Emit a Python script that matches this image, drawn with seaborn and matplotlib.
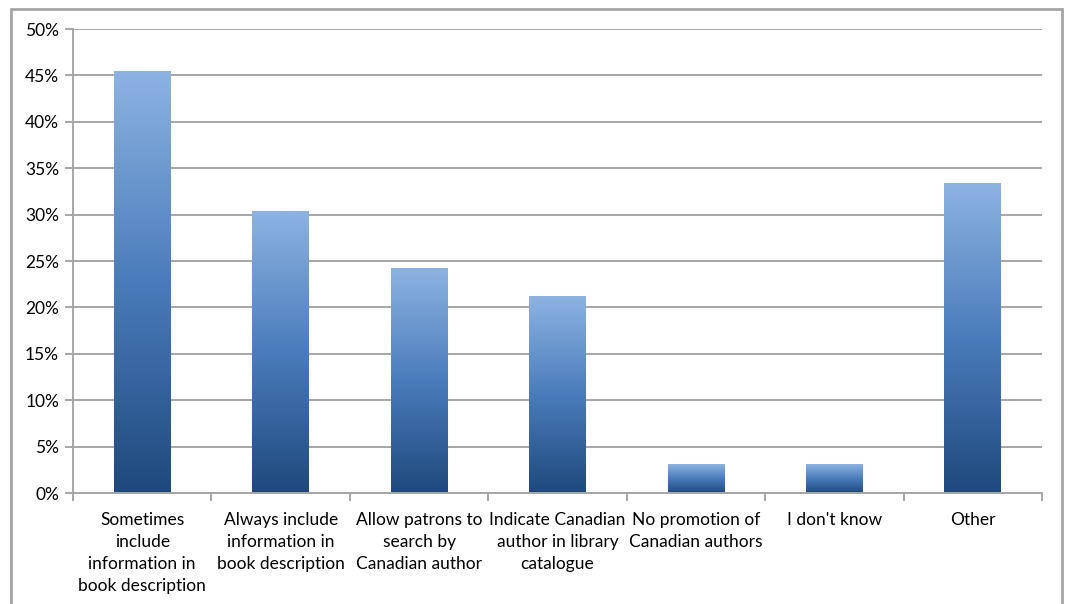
import numpy as np
import pandas as pd
import seaborn as sns
import matplotlib.pyplot as plt
from matplotlib.colors import LinearSegmentedColormap
from matplotlib.lines import Line2D
from matplotlib.ticker import FuncFormatter, FixedLocator

categories = [
    "Sometimes\ninclude\ninformation in\nbook description",
    "Always include\ninformation in\nbook description",
    "Allow patrons to\nsearch by\nCanadian author",
    "Indicate Canadian\nauthor in library\ncatalogue",
    "No promotion of\nCanadian authors",
    "I don't know",
    "Other",
]
values = [45.45, 30.30, 24.24, 21.21, 3.03, 3.03, 33.33]

sns.set_theme(style="white")
plt.rcParams["font.family"] = ["Lato", "DejaVu Sans"]

df = pd.DataFrame({"cat": categories, "val": values})

fig = plt.figure(figsize=(10.66, 6.04), dpi=100)
ax = fig.add_axes([73 / 1066, 1 - 493 / 604, 969 / 1066, 464 / 604])

sns.barplot(data=df, x="cat", y="val", ax=ax, width=0.41, color="#4F81BD",
            saturation=1, zorder=2)

# gradient fill for each bar
cmap = LinearSegmentedColormap.from_list("grad", ["#1F497D", "#4A7CBB", "#8DB3E2"])
grad = np.linspace(0, 1, 256).reshape(-1, 1)
for p in ax.patches:
    x, w, h = p.get_x(), p.get_width(), p.get_height()
    p.set_alpha(0)
    ax.imshow(grad, extent=(x, x + w, 0, h), origin="lower", aspect="auto",
              cmap=cmap, zorder=2)

ax.set_xlim(-0.5, len(categories) - 0.5)
ax.set_ylim(0, 50)
ax.set_yticks(np.arange(0, 51, 5))
ax.yaxis.set_major_formatter(FuncFormatter(lambda v, _: f"{int(v)}%"))
ax.yaxis.grid(True, color="#A6A6A6", linewidth=1.4, zorder=0)
ax.set_axisbelow(True)

for s in ["top", "right"]:
    ax.spines[s].set_visible(False)
for s in ["left", "bottom"]:
    ax.spines[s].set_color("#A6A6A6")
    ax.spines[s].set_linewidth(1.4)

ax.tick_params(axis="y", length=6, width=1.4, color="#A6A6A6", labelsize=12.5,
               labelcolor="black", pad=4, left=True)
ax.tick_params(axis="x", which="major", length=0, labelsize=12.5,
               labelcolor="black", pad=14)
ax.xaxis.set_minor_locator(FixedLocator(np.arange(-0.5, len(categories), 1)))
ax.tick_params(axis="x", which="minor", length=6, width=1.4, color="#A6A6A6",
               bottom=True)
for lab in ax.get_xticklabels():
    lab.set_linespacing(1.45)
ax.set_xlabel("")
ax.set_ylabel("")

# outer chart frame (bottom edge runs off the image)
frame_kw = dict(color="#A6A6A6", linewidth=2, transform=fig.transFigure)
x0, x1, y0 = 11 / 1066, 1062 / 1066, 1 - 9 / 604
fig.add_artist(Line2D([x0, x1], [y0, y0], **frame_kw))
fig.add_artist(Line2D([x0, x0], [y0, -0.01], **frame_kw))
fig.add_artist(Line2D([x1, x1], [y0, -0.01], **frame_kw))

fig.savefig("out.png", dpi=100)
